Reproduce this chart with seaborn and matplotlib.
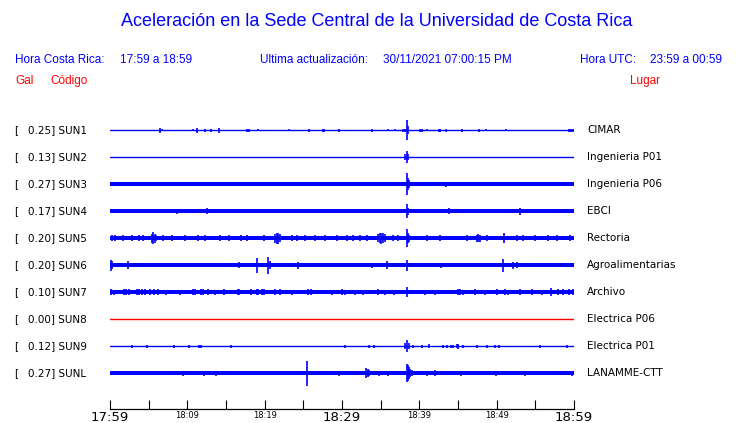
import numpy as np
import pandas as pd
import seaborn as sns

import matplotlib.pyplot as plt
from matplotlib import transforms

# --- data ---
codes = ['SUN1', 'SUN2', 'SUN3', 'SUN4', 'SUN5', 'SUN6', 'SUN7', 'SUN8', 'SUN9', 'SUNL']
places = ['CIMAR', 'Ingenieria P01', 'Ingenieria P06', 'EBCI', 'Rectoria',
          'Agroalimentarias', 'Archivo', 'Electrica P06', 'Electrica P01', 'LANAMME-CTT']
peak_gal = [0.25, 0.13, 0.27, 0.17, 0.20, 0.20, 0.10, 0.00, 0.12, 0.27]
# half width of the background noise band (0 = flat trace)
noise = [0, 0, 2.0, 1.7, 2.0, 1.8, 1.8, 0, 0, 2.1]

# (minute after 17:59, half amplitude) of the visible bursts
sun1 = [(6.51, 2.5), (6.77, 1), (10.78, 1), (11.29, 2.5), (12.33, 1.5), (13.10, 1.5),
        (14.05, 2.5), (17.67, 1.5), (18.02, 1.5), (19.14, 1), (23.19, 0.8), (25.78, 1.5),
        (27.5, 1.5), (27.65, 1.5), (29.66, 1.5), (33.84, 1.5), (35.99, 0.8), (36.85, 0.8),
        (37.93, 1.5), (38.1, 1.5), (38.36, 10), (38.58, 4), (40.15, 1.5), (40.3, 1.5),
        (41.03, 0.8), (42.50, 1.5), (42.7, 1.5), (43.49, 1.5), (45.52, 1.5), (47.76, 1.5),
        (48.58, 0.8), (51.25, 0.8), (59.40, 1.5), (59.55, 1.5), (59.83, 1.5)]
sun2 = [(38.2, 3), (38.36, 6), (38.58, 3)]
sun3 = [(38.36, 11), (38.5, 6), (38.7, 4), (43.49, 2.5), (50.6, 2.2), (53.97, 2.2), (58.88, 2.2)]
sun4 = [(8.62, 2.5), (12.59, 3), (36.64, 2), (38.36, 7), (38.58, 3.5), (43.88, 3),
        (53.02, 3.5)]
sun5 = [(0.22, 2.8), (0.65, 2.8), (1.72, 2.8), (2.80, 2.8), (3.79, 3), (4.31, 2.8),
        (5.39, 4.5), (5.6, 5.7), (5.82, 4.5), (6.0, 3), (6.90, 2.8), (7.97, 2.8), (9.70, 3),
        (11.42, 2.8), (12.28, 2.8), (14.22, 2.8), (15.43, 2.8), (16.94, 2.8), (17.67, 2.8),
        (19.96, 2.8), (21.34, 4.5), (21.55, 5.5), (21.76, 5.5), (21.98, 4), (23.49, 2.8),
        (24.14, 2.8), (25.22, 2.8), (26.51, 3), (27.80, 2.8), (29.31, 2.8), (30.6, 2.8),
        (31.47, 2.8), (32.33, 2.8), (33.19, 2.8), (34.70, 4), (34.9, 5), (35.1, 5.5),
        (35.35, 5), (35.56, 4), (36.64, 2.8), (37.28, 2.8), (38.36, 9), (38.5, 5),
        (38.7, 3.5), (40.95, 2.8), (42.68, 2.8), (46.13, 2.8), (47.41, 3.5), (47.6, 4),
        (47.85, 3.5), (48.71, 2.8), (50.91, 5), (52.59, 2.8), (53.45, 3), (54.96, 2.8),
        (56.68, 3), (57.76, 2.8), (59.48, 2.8)]
sun6 = [(0.13, 5.5), (0.3, 4), (2.37, 4), (7.03, 2), (16.72, 3), (18.97, 7.5),
        (20.47, 8.5), (20.7, 4), (24.35, 3.5), (33.84, 2.5), (35.78, 4), (38.36, 5.5),
        (42.76, 2.5), (50.86, 6.5), (52.16, 3.5), (52.59, 3)]
sun7 = [(0.13, 3), (0.52, 2.5), (1.77, 3), (2.03, 3), (2.50, 3), (3.45, 3),
        (3.79, 3), (4.10, 3), (4.57, 3), (5.17, 3), (5.73, 3), (6.16, 3),
        (7.20, 2.5), (9.05, 2.5), (10.78, 3), (10.99, 3), (11.77, 3), (12.07, 3),
        (12.72, 3), (13.58, 2.5), (14.78, 3), (16.51, 3), (16.68, 3), (18.23, 3),
        (18.97, 3), (19.18, 3), (19.70, 3), (19.96, 3), (21.34, 3), (21.98, 3),
        (23.49, 2.5), (25.65, 3), (25.99, 3), (28.66, 2.5), (29.96, 3), (30.39, 2.5),
        (31.68, 2.5), (32.67, 2.5), (34.70, 3), (35.56, 2.5), (36.72, 2.5), (38.36, 5),
        (40.73, 2.5), (42.03, 2.5), (45.04, 3), (45.26, 3), (45.69, 2.5), (47.20, 3),
        (48.49, 2.5), (50.00, 3), (51.08, 3), (51.51, 2.5), (53.02, 3), (54.53, 3),
        (55.82, 2.5), (56.98, 4), (57.97, 3), (58.53, 3), (59.40, 3), (59.91, 3)]
sun8 = []
sun9 = [(2.89, 1.3), (4.83, 1.3), (8.28, 1.3), (10.26, 1.3), (11.55, 1.3), (11.81, 1.3),
        (15.69, 1.3), (30.39, 1.3), (33.54, 1.3), (34.18, 1.3), (38.2, 3), (38.36, 6),
        (38.6, 3), (39.14, 1.3), (40.30, 1.3), (41.29, 2), (43.02, 1.3), (43.53, 1.3),
        (44.10, 1.3), (44.40, 1.3), (44.83, 2), (45.04, 2.5), (45.60, 1.3), (47.41, 1.3),
        (48.71, 1.3), (49.78, 1.3), (50.34, 1.5), (55.60, 1.3), (59.14, 1.3)]
sunl = [(9.48, 2.3), (12.20, 2.3), (13.71, 2.3), (20.91, 1.5), (25.52, 12.5), (29.66, 2.3),
        (33.10, 5), (33.32, 4), (33.54, 3), (34.83, 2.5), (35.99, 2.5), (38.36, 9), (38.5, 8),
        (38.66, 6), (38.84, 4), (39.0, 3), (40.95, 2.5), (42.03, 3), (45.35, 2.5),
        (49.91, 2.5), (53.66, 2.3), (59.70, 2.3)]
bursts = [sun1, sun2, sun3, sun4, sun5, sun6, sun7, sun8, sun9, sunl]

tick_minutes = list(range(0, 61, 5))
tick_labels = ['17:59', '', '18:09', '', '18:19', '', '18:29', '', '18:39', '', '18:49', '', '18:59']
big_ticks = ['17:59', '18:29', '18:59']

BLUE = '#0000ff'
RED = '#ff0000'
SPACING = 27
line_colors = [RED if g == 0 else BLUE for g in peak_gal]

sns.set_style('white')
plt.rcParams['font.family'] = ['DejaVu Sans']
plt.rcParams['text.color'] = 'black'

W, H = 740, 423
fig = plt.figure(figsize=(W / 100, H / 100), dpi=100)
ax = fig.add_axes([110 / W, (H - 409) / H, 464 / W, 299 / H])

levels = [i * SPACING for i in range(len(codes))]

# flat part of every trace
base = pd.DataFrame({'code': np.repeat(codes, 2),
                     'minute': [0, 60] * len(codes),
                     'level': np.repeat(levels, 2)})
sns.lineplot(data=base, x='minute', y='level', hue='code',
             palette=dict(zip(codes, line_colors)), estimator=None,
             linewidth=1.0, legend=False, ax=ax)

for lev, band, spikes, col in zip(levels, noise, bursts, line_colors):
    if band > 0:
        ax.fill_between([0, 60], lev - band, lev + band, color=col, lw=0)
    if spikes:
        t, a = np.array(spikes).T
        ax.vlines(t, lev - a, lev + a, color=col, lw=1.2)

ax.set_xlim(0, 60)
ax.set_ylim(levels[-1] + 35.7, -20)
ax.set_xlabel('')
ax.set_ylabel('')
ax.set_yticks([])
for s in ['left', 'top', 'right']:
    ax.spines[s].set_visible(False)
ax.spines['bottom'].set_color('black')
ax.spines['bottom'].set_linewidth(0.9)

ax.set_xticks(tick_minutes, tick_labels)
ax.tick_params(axis='x', bottom=True, direction='in', length=6.5, width=0.8, pad=1.5,
               colors='black')
for lab in ax.get_xticklabels():
    lab.set_fontsize(9.5 if lab.get_text() in big_ticks else 6)

# station labels, left and right of the traces
tr = transforms.blended_transform_factory(fig.transFigure, ax.transData)
for lev, code, place, g in zip(levels, codes, places, peak_gal):
    ax.text(14 / W, lev, '[', transform=tr, fontsize=7.5, va='center', color='black')
    ax.text(27.5 / W, lev, f'{g:.2f}] {code}', transform=tr, fontsize=7.5, va='center',
            color='black')
    ax.text(587 / W, lev, place, transform=tr, fontsize=7.5, va='center', color='black')

# header block
head = dict(family='Liberation Sans', fontsize=8.5, va='center')
fig.text(377 / W, 1 - 22 / H, 'Aceleración en la Sede Central de la Universidad de Costa Rica',
         ha='center', va='center', fontsize=13, color=BLUE, family='Liberation Sans')
fig.text(15 / W, 1 - 60 / H, 'Hora Costa Rica:', color=BLUE, **head)
fig.text(120 / W, 1 - 60 / H, '17:59 a 18:59', color=BLUE, **head)
fig.text(260 / W, 1 - 60 / H, 'Ultima actualización:', color=BLUE, **head)
fig.text(383 / W, 1 - 60 / H, '30/11/2021 07:00:15 PM', color=BLUE, **head)
fig.text(580 / W, 1 - 60 / H, 'Hora UTC:', color=BLUE, **head)
fig.text(650 / W, 1 - 60 / H, '23:59 a 00:59', color=BLUE, **head)
fig.text(15 / W, 1 - 81 / H, 'Gal', color=RED, **head)
fig.text(50 / W, 1 - 81 / H, 'Código', color=RED, **head)
fig.text(630 / W, 1 - 81 / H, 'Lugar', color=RED, **head)

fig.savefig('out.png', dpi=100)
